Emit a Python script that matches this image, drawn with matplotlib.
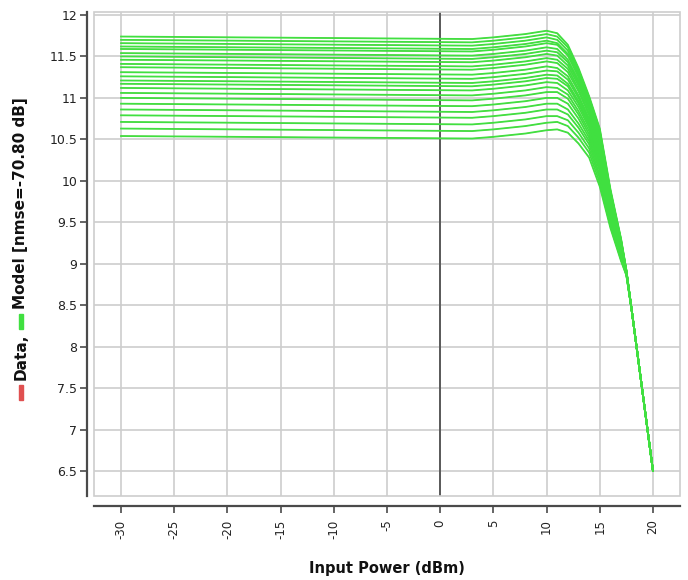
import matplotlib
matplotlib.use("Agg")
import matplotlib.pyplot as plt
from matplotlib.patches import Rectangle
import numpy as np

# Input power sweep points (dBm) where each gain curve is sampled
pin_sweep = [-30, 3, 5, 8, 10, 11, 12, 13, 14, 15, 16, 17, 17.5]

# Gain (dB) of each of the 23 curves at every sweep point, highest curve first
gain_m30 = [11.74, 11.70, 11.66, 11.62, 11.59, 11.54, 11.50, 11.46, 11.41, 11.37, 11.31, 11.26,
            11.21, 11.17, 11.12, 11.06, 11.00, 10.93, 10.86, 10.79, 10.71, 10.63, 10.54]
gain_3 = [11.71, 11.67, 11.63, 11.59, 11.56, 11.51, 11.47, 11.43, 11.38, 11.34, 11.28, 11.23,
          11.18, 11.14, 11.09, 11.03, 10.97, 10.90, 10.83, 10.76, 10.68, 10.60, 10.51]
gain_5 = [11.73, 11.69, 11.65, 11.61, 11.58, 11.53, 11.49, 11.45, 11.40, 11.36, 11.30, 11.25,
          11.20, 11.16, 11.11, 11.05, 10.99, 10.92, 10.85, 10.78, 10.70, 10.62, 10.53]
gain_8 = [11.77, 11.73, 11.69, 11.65, 11.62, 11.57, 11.53, 11.49, 11.44, 11.40, 11.34, 11.29,
          11.24, 11.20, 11.15, 11.09, 11.03, 10.96, 10.89, 10.82, 10.74, 10.66, 10.57]
gain_10 = [11.81, 11.77, 11.73, 11.69, 11.66, 11.61, 11.57, 11.53, 11.48, 11.44, 11.38, 11.33,
           11.28, 11.24, 11.19, 11.13, 11.07, 11.00, 10.93, 10.86, 10.78, 10.70, 10.61]
gain_11 = [11.78, 11.74, 11.70, 11.66, 11.64, 11.59, 11.55, 11.51, 11.46, 11.42, 11.36, 11.32,
           11.27, 11.23, 11.18, 11.12, 11.07, 11.00, 10.93, 10.86, 10.78, 10.71, 10.62]
gain_12 = [11.64, 11.61, 11.57, 11.53, 11.51, 11.46, 11.43, 11.39, 11.35, 11.31, 11.26, 11.22,
           11.17, 11.14, 11.09, 11.04, 10.99, 10.93, 10.86, 10.80, 10.73, 10.66, 10.58]
gain_13 = [11.36, 11.33, 11.30, 11.27, 11.25, 11.21, 11.18, 11.15, 11.11, 11.08, 11.03, 11.00,
           10.96, 10.93, 10.89, 10.84, 10.80, 10.75, 10.69, 10.64, 10.58, 10.52, 10.45]
gain_14 = [11.02, 11.00, 10.97, 10.94, 10.93, 10.90, 10.87, 10.85, 10.81, 10.79, 10.75, 10.72,
           10.69, 10.67, 10.64, 10.60, 10.56, 10.52, 10.48, 10.44, 10.39, 10.34, 10.28]
gain_15 = [10.63, 10.61, 10.59, 10.56, 10.54, 10.52, 10.49, 10.47, 10.44, 10.41, 10.38, 10.35,
           10.33, 10.30, 10.27, 10.23, 10.20, 10.16, 10.12, 10.07, 10.03, 9.98, 9.93]
gain_16 = [9.90, 9.88, 9.87, 9.86, 9.84, 9.82, 9.81, 9.79, 9.77, 9.76, 9.74, 9.71,
           9.70, 9.68, 9.66, 9.63, 9.61, 9.58, 9.56, 9.53, 9.50, 9.46, 9.43]
gain_17 = [9.30, 9.29, 9.28, 9.28, 9.27, 9.26, 9.25, 9.24, 9.23, 9.22, 9.21, 9.19,
           9.18, 9.17, 9.16, 9.15, 9.13, 9.12, 9.10, 9.09, 9.07, 9.05, 9.03]
gain_17p5 = [8.92, 8.92, 8.92, 8.91, 8.91, 8.91, 8.91, 8.91, 8.90, 8.90, 8.90, 8.90,
             8.89, 8.89, 8.89, 8.89, 8.88, 8.88, 8.88, 8.87, 8.87, 8.86, 8.86]

# Deep compression: all curves share the same gain here
pin_tail = [18, 19, 20]
gain_tail = [8.44, 7.47, 6.50]

x_ticks = [-30, -25, -20, -15, -10, -5, 0, 5, 10, 15, 20]
y_ticks = [6.5, 7, 7.5, 8, 8.5, 9, 9.5, 10, 10.5, 11, 11.5, 12]
y_tick_labels = ["6.5", "7", "7.5", "8", "8.5", "9", "9.5", "10", "10.5", "11", "11.5", "12"]

gain_columns = [gain_m30, gain_3, gain_5, gain_8, gain_10, gain_11, gain_12, gain_13,
                gain_14, gain_15, gain_16, gain_17, gain_17p5]
curves = np.array(gain_columns).T
pin_all = list(pin_sweep) + list(pin_tail)

W, H = 688, 580
fig = plt.figure(figsize=(W / 100, H / 100), dpi=100)
L, R, T, B = 94, 680, 12, 496
ax = fig.add_axes([L / W, 1 - B / H, (R - L) / W, (B - T) / H])

FONT = "DejaVu Sans"
GRID = "#cdcdcd"
AXIS = "#4a4a4a"
GREEN = "#40e040"
RED = "#e05050"

ax.set_xlim(-32.54, 22.54)
ax.set_ylim(6.198, 12.036)

for xv in x_ticks:
    ax.axvline(xv, color=GRID, lw=1.2, zorder=0)
for yv in y_ticks:
    ax.axhline(yv, color=GRID, lw=1.2, zorder=0)
ax.axvline(0, color="#505050", lw=1.3, zorder=1)

# measured data underneath, model on top
for row in curves:
    ax.plot(pin_all, list(row) + gain_tail, color=RED, lw=0.5, zorder=2)
for row in curves:
    ax.plot(pin_all, list(row) + gain_tail, color=GREEN, lw=1.3, zorder=3)

ax.add_patch(Rectangle((0, 0), 1, 1, transform=ax.transAxes, fill=False,
                       ec=GRID, lw=1.2, clip_on=False, zorder=4))

for s in ("top", "right"):
    ax.spines[s].set_visible(False)
ax.spines["left"].set_position(("outward", 5))
ax.spines["bottom"].set_position(("outward", 7))
for s in ("left", "bottom"):
    ax.spines[s].set_color(AXIS)
    ax.spines[s].set_linewidth(1.6)

ax.set_xticks(x_ticks)
ax.set_xticklabels([str(v) for v in x_ticks], rotation=90, fontsize=8.5,
                   family=FONT, color="#222222")
ax.set_yticks(y_ticks)
ax.set_yticklabels(y_tick_labels, fontsize=9, family=FONT, color="#222222")
ax.tick_params(axis="both", direction="out", length=5, width=1.2, color=AXIS)
ax.tick_params(axis="y", pad=2)
ax.tick_params(axis="x", pad=5)

fig.text(387 / W, 1 - 569 / H, "Input Power (dBm)", ha="center", va="center",
         fontsize=10.5, fontweight="bold", family=FONT, color="#111111")

# y-axis caption: colored legend dashes interleaved with bold text, stacked upward
renderer = fig.canvas.get_renderer()
cx = 21
y_px = 180.0  # bottom of the caption, pixels from the figure bottom
gap = 5.0
parts = [("dash", RED), ("text", "Data,"), ("dash", GREEN), ("text", "Model [nmse=-70.80 dB]")]
for kind, val in parts:
    if kind == "dash":
        fig.patches.append(Rectangle(((cx - 2) / W, y_px / H), 4 / W, 15 / H,
                                     transform=fig.transFigure, color=val, figure=fig))
        y_px += 15 + gap
    else:
        t = fig.text(cx / W, y_px / H, val, rotation=90, ha="center", va="bottom",
                     fontsize=11, fontweight="bold", family=FONT, color="#111111")
        bb = t.get_window_extent(renderer)
        y_px += bb.height + gap

fig.savefig("out.png", dpi=100, facecolor="white")
